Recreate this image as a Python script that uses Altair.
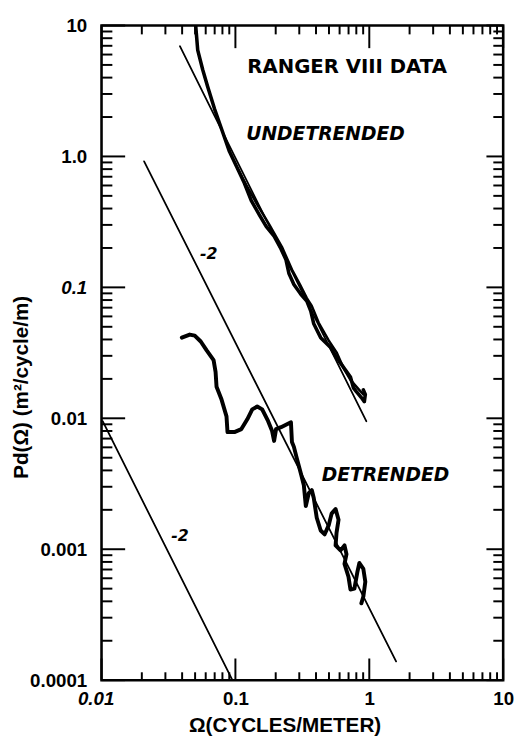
import altair as alt
import pandas as pd

W, H = 408, 665

# ---- data ----
undet_x = [0.0505, 0.0523, 0.057, 0.062, 0.0699, 0.0788, 0.0903, 0.1035, 0.1166, 0.1314,
           0.1506, 0.1697, 0.1945, 0.2192, 0.2387, 0.2512, 0.2735, 0.3083, 0.3415, 0.3656,
           0.3848, 0.4335, 0.5142, 0.5601, 0.61, 0.664, 0.7234, 0.7612, 0.801, 0.8724,
           0.9183, 0.934, 0.903]
undet_y = [10.0, 6.49, 4.59, 3.42, 2.30, 1.62, 1.09, 0.812, 0.627, 0.459,
           0.36, 0.2925, 0.246, 0.1965, 0.1624, 0.1274, 0.1053, 0.0886, 0.0785, 0.066,
           0.0527, 0.0413, 0.0348, 0.0298, 0.0264, 0.0234, 0.0207, 0.0171, 0.016, 0.0144,
           0.0134, 0.0152, 0.0165]

# second (overlapping) strand of the undetrended spectrum
undet2_x = [0.1035, 0.1206, 0.143, 0.1786, 0.2229, 0.2644, 0.303, 0.3415, 0.3719, 0.419,
            0.4971, 0.5695, 0.6417, 0.7234, 0.815, 0.903]
undet2_y = [0.812, 0.605, 0.443, 0.303, 0.2033, 0.1366, 0.1053, 0.0827, 0.0720, 0.0536,
            0.0393, 0.0319, 0.0242, 0.01965, 0.0171, 0.0152]

det_x = [0.0398, 0.0456, 0.0497, 0.0551, 0.0610, 0.0687, 0.0711, 0.0723, 0.0788, 0.0858,
         0.0873, 0.0983, 0.1108, 0.1227, 0.1336, 0.1455, 0.1585, 0.1756, 0.188, 0.1945,
         0.2012, 0.2192, 0.2428, 0.2599, 0.2644, 0.2735, 0.288, 0.3083, 0.3245, 0.3357,
         0.3533, 0.3719, 0.3848, 0.405, 0.4335, 0.4642, 0.4971, 0.5231, 0.5601, 0.5894,
         0.5695, 0.5601, 0.61, 0.6529, 0.6755, 0.6529, 0.699, 0.7234, 0.7743, 0.815,
         0.8433, 0.903, 0.934, 0.903, 0.8724]
det_y = [0.0413, 0.0436, 0.0428, 0.0386, 0.0330, 0.0278, 0.0226, 0.0174, 0.0139, 0.01035,
         0.00785, 0.00785, 0.00827, 0.00983, 0.01169, 0.0123, 0.01169, 0.0095, 0.00799, 0.00672,
         0.00827, 0.00856, 0.00902, 0.00933, 0.0066, 0.00605, 0.00492, 0.00379, 0.00308, 0.00214,
         0.00268, 0.00283, 0.00246, 0.00174, 0.00139, 0.0013, 0.00152, 0.00187, 0.00203, 0.00168,
         0.00134, 0.00107, 0.00098, 0.00107, 0.000917, 0.000772, 0.000616, 0.000492, 0.0005, 0.000672,
         0.000785, 0.000707, 0.000565, 0.000436, 0.000386]

fit_x = [0.0385, 0.95]
fit_y = [6.95, 0.0095]
ref1_x = [0.0208, 1.585]
ref1_y = [0.917, 0.000139]
ref2_x = [0.0102, 0.095]
ref2_y = [0.0095, 0.0001]

x_tick_vals = [0.01, 0.1, 1, 10]
x_tick_labels = ["0.01", "0.1", "1", "10"]
y_tick_vals = [10, 1, 0.1, 0.01, 0.001, 0.0001]
y_tick_labels = ["10", "1.0", "0.1", "0.01", "0.001", "0.0001"]

x_minor = [m * d for d in [0.01, 0.1, 1] for m in range(2, 10)]
y_minor = [m * d for d in [0.0001, 0.001, 0.01, 0.1, 1] for m in range(2, 10)]

title_text = ["RANGER VIII DATA"]
title_x = [0.1227]
title_y = [4.83]
label_text = ["UNDETRENDED", "DETRENDED"]
label_x = [0.1206, 0.4409]
label_y = [1.49, 0.00367]
slope_text = ["-2", "-2"]
slope_x = [0.0631, 0.0385]
slope_y = [0.180, 0.00127]

# ---- chart ----
xs = alt.Scale(type="log", domain=[0.01, 10], nice=False)
ys = alt.Scale(type="log", domain=[0.0001, 10], nice=False)


def label_expr(vals, labels):
    e = "''"
    for v, l in zip(reversed(vals), reversed(labels)):
        e = f"(datum.value == {v} ? '{l}' : {e})"
    return e


xaxis = alt.Axis(values=x_tick_vals, labelExpr=label_expr(x_tick_vals, x_tick_labels),
                 ticks=False, tickSize=0, domain=False, grid=False, labelOverlap=False,
                 labelBound=False, labelFlush=False,
                 labelFont="Liberation Sans", labelFontWeight="bold", labelFontSize=19,
                 labelFontStyle={"condition": {"test": "datum.value == 0.01", "value": "italic"},
                                 "value": "normal"},
                 labelOffset={"condition": {"test": "datum.value == 0.01", "value": -6},
                              "value": 0},
                 labelColor="black", labelPadding=10,
                 title="Ω(CYCLES/METER)", titleFont="Liberation Sans", titleFontSize=21,
                 titleFontWeight="bold", titleColor="black",
                 titleX=186, titleY=46, titleAlign="center", titleBaseline="middle")
yaxis = alt.Axis(values=y_tick_vals, labelExpr=label_expr(y_tick_vals, y_tick_labels),
                 ticks=False, tickSize=0, domain=False, grid=False, labelOverlap=False,
                 labelBound=False, labelFlush=False,
                 labelFont="Liberation Sans", labelFontWeight="bold", labelFontSize=19,
                 labelFontStyle={"condition": {"test": "datum.value == 0.1", "value": "italic"},
                                 "value": "normal"},
                 labelColor="black", labelPadding=15,
                 title="Pd(Ω) (m²/cycle/m)", titleFont="Liberation Sans", titleFontSize=21,
                 titleFontWeight="bold", titleColor="black",
                 titleX=-81, titleY=367, titleAngle=270, titleAlign="center",
                 titleBaseline="middle")

X = lambda f: alt.X(f, scale=xs, axis=xaxis)
Y = lambda f: alt.Y(f, scale=ys, axis=yaxis)


def curve(xv, yv, width):
    df = pd.DataFrame({"x": xv, "y": yv, "i": list(range(len(xv)))})
    return alt.Chart(df).mark_line(color="black", strokeWidth=width, strokeJoin="round",
                                   strokeCap="round", clip=True).encode(
        x=X("x:Q"), y=Y("y:Q"), order="i:Q")


def xticks(vals, length, top):
    df = pd.DataFrame({"x": vals})
    if top:
        yy, yy2 = alt.value(0), alt.value(length)
    else:
        yy, yy2 = alt.value(H), alt.value(H - length)
    return alt.Chart(df).mark_rule(color="black", strokeWidth=2).encode(
        x=X("x:Q"), y=yy, y2=yy2)


def yticks(vals, length, right):
    df = pd.DataFrame({"y": vals})
    if right:
        xx, xx2 = alt.value(W), alt.value(W - length)
    else:
        xx, xx2 = alt.value(0), alt.value(length)
    return alt.Chart(df).mark_rule(color="black", strokeWidth=2).encode(
        y=Y("y:Q"), x=xx, x2=xx2)


def texts(tv, xv, yv, align, size, style):
    df = pd.DataFrame({"t": tv, "x": xv, "y": yv})
    return alt.Chart(df).mark_text(align=align, baseline="middle", font="DejaVu Sans",
                                   fontWeight="bold", fontStyle=style, fontSize=size,
                                   color="black").encode(
        x=X("x:Q"), y=Y("y:Q"), text="t:N")


layers = [
    curve(fit_x, fit_y, 1.8),
    curve(ref1_x, ref1_y, 1.8),
    curve(ref2_x, ref2_y, 1.8),
    curve(undet_x, undet_y, 3.6),
    curve(undet2_x, undet2_y, 2.6),
    curve(det_x, det_y, 4.0),
    xticks(x_tick_vals, 22, False), xticks(x_minor, 8, False),
    xticks(x_tick_vals, 23, True), xticks(x_minor, 9, True),
    yticks(y_tick_vals, 24, False), yticks(y_minor, 11, False),
    yticks(y_tick_vals, 17, True), yticks(y_minor, 10, True),
    texts(title_text, title_x, title_y, "left", 20, "normal"),
    texts(label_text, label_x, label_y, "left", 19, "italic"),
    texts(slope_text, slope_x, slope_y, "center", 16, "italic"),
]

chart = alt.layer(*layers).properties(
    width=W, height=H,
    autosize=alt.AutoSizeParams(type="none"),
    padding={"left": 95, "top": 12, "right": 11, "bottom": 55},
    background="white",
).configure_view(stroke="black", strokeWidth=2.6)

chart.save("out.html", embed_options={"renderer": "svg", "actions": False})
